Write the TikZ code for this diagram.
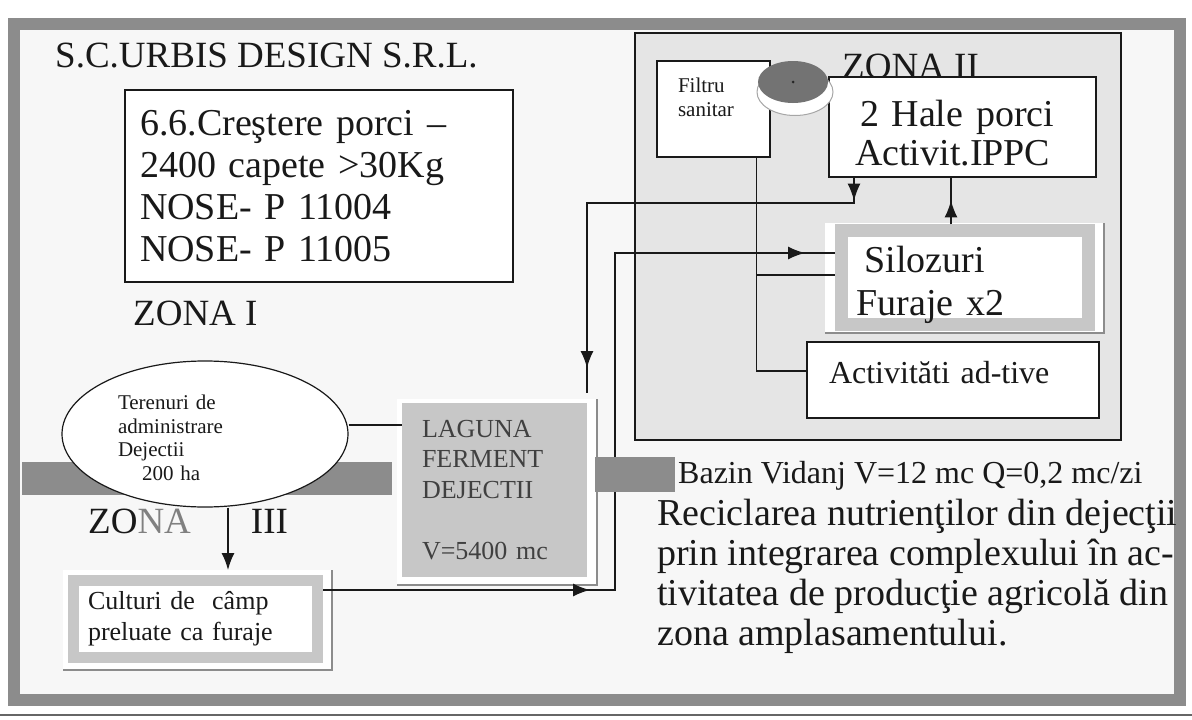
\documentclass[tikz,border=0pt]{standalone}
\usepackage{fontspec}
\setmainfont{Liberation Serif}
\usetikzlibrary{shapes.geometric, arrows.meta, positioning, decorations.markings}

\definecolor{ink}{gray}{0.1}
\definecolor{zonegray}{gray}{0.9}
\definecolor{lagungray}{gray}{0.78}
\definecolor{bordergray}{gray}{0.55}
\definecolor{papergray}{gray}{0.97}

\begin{document}
\begin{tikzpicture}[
    x=1pt, y=-1pt,
    box/.style={rectangle, draw=ink, line width=1.2pt, fill=white, text=ink, align=left, inner ysep=0pt},
    silobox/.style={rectangle, draw=black!22, fill=white, text=ink, align=left, inner ysep=0pt},
    lagbox/.style={rectangle, fill=lagungray, text=black!75, align=left, inner ysep=0pt},
    zonetext/.style={font=\fontsize{37pt}{40pt}\selectfont, text=ink, inner sep=0pt},
    bigtext/.style={font=\fontsize{38pt}{40pt}\selectfont, text=ink, inner sep=0pt},
    midtext/.style={font=\fontsize{32pt}{36pt}\selectfont, text=ink, inner sep=0pt},
    conn/.style={draw=ink, line width=1.4pt},
    arrow/.style={conn, -{Latex[length=17pt, width=13pt]}},
    midtip/.style={postaction={decorate}, decoration={markings, mark=at position #1 with {\arrow{Latex[length=17pt, width=13pt]}}}},
    twotips/.style 2 args={postaction={decorate}, decoration={markings, mark=at position #1 with {\arrow{Latex[length=17pt, width=13pt]}}, mark=at position #2 with {\arrow{Latex[length=17pt, width=13pt]}}}},
    shadowline/.style={draw=black!45, line width=1.5pt}
]

% Page and frame
\useasboundingbox (0,0) rectangle (1192,720);
\fill[white] (0,0) rectangle (1192,720);
\fill[papergray] (14,24) rectangle (1180,700);
\draw[bordergray, line width=12pt] (14,24) rectangle (1180,700);
\draw[black!60, line width=2.5pt] (0,715) -- (1192,715);
\fill[bordergray] (22,462) rectangle (392,495);

% Zone I
\node[zonetext, anchor=base west] (firm) at (55,67) {S.C.URBIS DESIGN S.R.L.};
\node[box, font=\fontsize{38pt}{42pt}\selectfont, minimum width=388pt, minimum height=192pt, text width=358pt, inner xsep=15pt] (farm) at (319,186) {6.6.Creştere porci –\\2400 capete >30Kg\\NOSE- P 11004\\NOSE- P 11005};
\node[zonetext, anchor=base west] (zone1) at (133,325) {ZONA I};

% Zone II
\node[rectangle, draw=ink, line width=1.2pt, fill=zonegray, minimum width=486pt, minimum height=407pt] (zone2) at (878,236.5) {};
\node[box, font=\fontsize{21pt}{24pt}\selectfont, minimum width=113pt, minimum height=96pt, text width=71pt, inner xsep=21pt] (filtru) at (713.5,109) {Filtru\\sanitar\\\mbox{}};
\node[zonetext, anchor=base west] (zone2label) at (842,78) {ZONA II};
\node[box, font=\fontsize{38pt}{39pt}\selectfont, minimum width=267pt, minimum height=100pt, text width=215pt, inner xsep=26pt] (hale) at (962.5,127) {\rule{0pt}{38pt}\hspace*{5pt}2 Hale porci\\Activit.IPPC};
\node[ellipse, draw=black!35, line width=1pt, fill=white, minimum width=76pt, minimum height=47pt] (discbase) at (795,92) {};
\node[ellipse, fill=black!55, minimum width=70pt, minimum height=42pt] (disc) at (793,82) {};
\fill[black!85] (disc.center) circle (1.5pt);

\fill[white] (825,223) rectangle (1104,333);
\draw[shadowline] (825,333) -- (1104,333) -- (1104,223);
\node[silobox, line width=13pt, font=\fontsize{38pt}{43pt}\selectfont, minimum width=247pt, minimum height=88pt, text width=217pt, inner xsep=15pt] (silo) at (965,277.5) {\rule{0pt}{42pt}\hspace*{8pt}Silozuri\\Furaje x2};
\node[box, font=\fontsize{32pt}{36pt}\selectfont, minimum width=292pt, minimum height=76pt, text width=248pt, inner xsep=22pt, text height=22pt, text depth=16pt] (adtive) at (953,380) {Activităti ad-tive};

% Zone III
\fill[white] (397,399) rectangle (597,585);
\draw[shadowline] (397,585) -- (597,585) -- (597,399);
\node[lagbox, font=\fontsize{26pt}{30.5pt}\selectfont, minimum width=185pt, minimum height=174pt, text width=145pt, inner xsep=20pt] (lag) at (494.5,490) {LAGUNA\\FERMENT\\DEJECTII\\[30.5pt]V=5400 mc};
\node[ellipse, draw=ink, line width=1.2pt, fill=white, text=ink, font=\fontsize{21pt}{23.7pt}\selectfont, minimum width=286pt, minimum height=146pt, text width=174pt, align=left, inner sep=0pt] (teren) at (205,434) {\rule{0pt}{22pt}Terenuri de\\administrare\\Dejectii\\\hspace*{24pt}200 ha};
\node[zonetext, anchor=base west] (zone3) at (88,533) {ZO\textcolor{black!50}{NA}\hspace{60pt}III};

\fill[white] (63,570) rectangle (332,670);
\draw[shadowline] (63,670) -- (332,670) -- (332,570);
\node[silobox, line width=11pt, font=\fontsize{26pt}{31pt}\selectfont, minimum width=244pt, minimum height=77pt, text width=215pt, inner xsep=14.5pt] (cult) at (195.5,619) {Culturi de\ \ câmp\\preluate ca furaje};

% Texts
\node[midtext, anchor=base west] (bazin) at (678,483) {Bazin Vidanj V=12 mc Q=0,2 mc/zi};
\node[bigtext, anchor=north west, align=left] (recicl) at (657,499) {Reciclarea nutrienţilor din dejecţii\\prin integrarea complexului în ac-\\tivitatea de producţie agricolă din\\zona amplasamentului.};

% Connectors
\coordinate (terright) at ([yshift=9pt]teren.east);
\draw[conn] (terright) -- (terright -| lag.west);
\draw[arrow] ([xshift=23pt]teren.south) -- ([xshift=32.5pt, yshift=5pt]cult.north);

\coordinate (feedlow) at (615,590);
\coordinate (feedhigh) at (615,253);
\draw[conn, twotips={267pt}{-30pt}] (cult.east |- feedlow) -- (feedlow) -- (feedhigh) -- (feedhigh -| silo.west);

\coordinate (halebend) at (854,203);
\coordinate (lagbend) at (587,203);
\coordinate (lagtop) at (587,393);
\draw[conn, twotips={23pt}{-25pt}] (hale.south -| halebend) -- (halebend) -- (lagbend) -- (lagtop);

\coordinate (siloup) at ([xshift=-14pt]silo.north);
\draw[conn, midtip=24pt] (siloup) -- (siloup |- hale.south);

\coordinate (filtdown) at ([xshift=-14pt]filtru.south east);
\coordinate (filtjoin) at (756.6,275);
\draw[conn] (filtdown) |- ([yshift=9pt]adtive.west);
\draw[conn] (filtjoin) -- (filtjoin -| silo.west);

\fill[bordergray] (595,457) rectangle (675,492);

\end{tikzpicture}
\end{document}
